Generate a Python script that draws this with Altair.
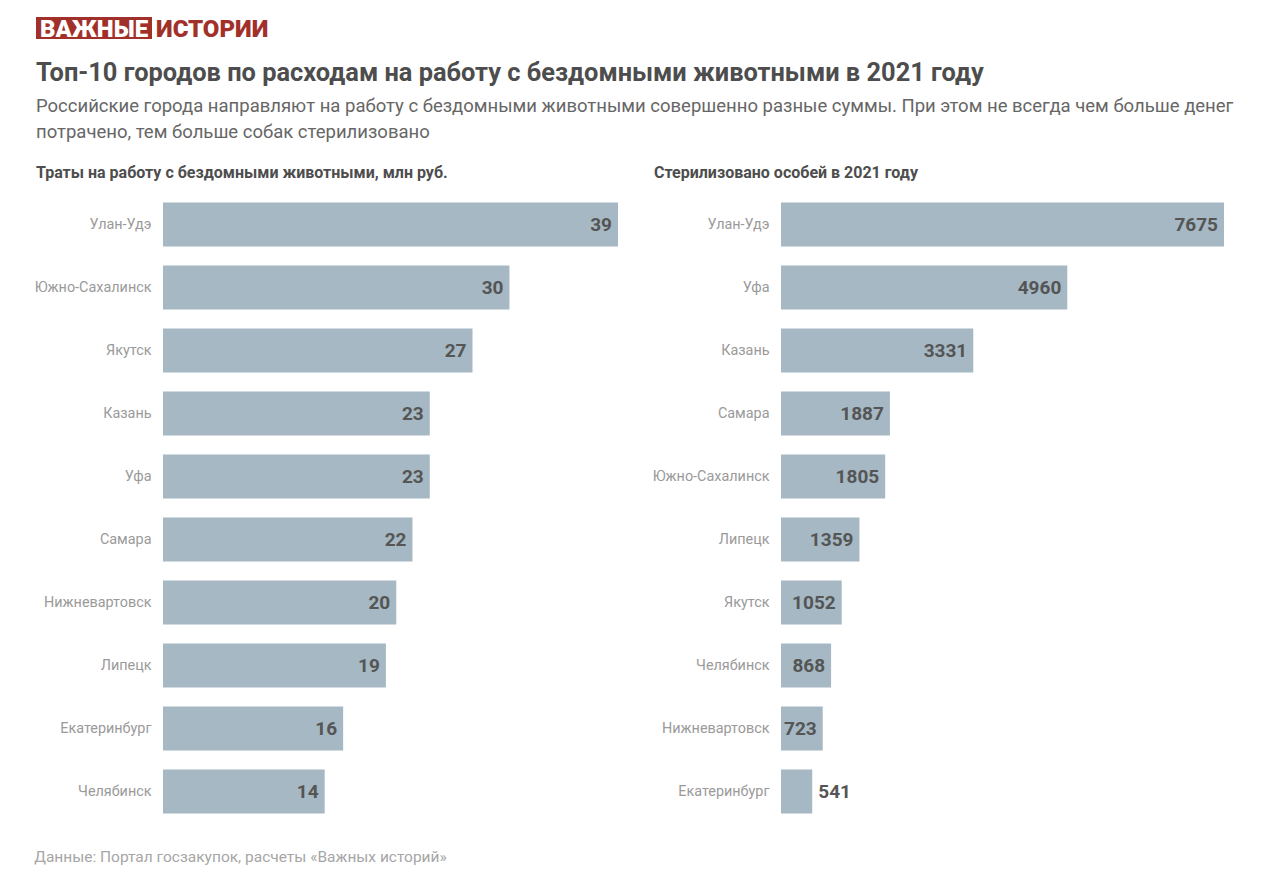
import altair as alt
import pandas as pd

# ---------------- data ----------------
spend_cities = ["Улан-Удэ", "Южно-Сахалинск", "Якутск", "Казань", "Уфа",
                "Самара", "Нижневартовск", "Липецк", "Екатеринбург", "Челябинск"]
spend_values = [39.4, 30.0, 26.8, 23.1, 23.1, 21.6, 20.2, 19.3, 15.6, 14.0]

ster_cities = ["Улан-Удэ", "Уфа", "Казань", "Самара", "Южно-Сахалинск",
               "Липецк", "Якутск", "Челябинск", "Нижневартовск", "Екатеринбург"]
ster_values = [7675, 4960, 3331, 1887, 1805, 1359, 1052, 868, 723, 541]

LOGO_A = "ВАЖНЫЕ"
LOGO_B = "ИСТОРИИ"
TITLE = "Топ-10 городов по расходам на работу с бездомными животными в 2021 году"
SUBTITLE = [
    "Российские города направляют на работу с бездомными животными совершенно разные суммы. При этом не всегда чем больше денег",
    "потрачено, тем больше собак стерилизовано",
]
LEFT_TITLE = "Траты на работу с бездомными животными, млн руб."
RIGHT_TITLE = "Стерилизовано особей в 2021 году"
SOURCE = "Данные: Портал госзакупок, расчеты «Важных историй»"

# ---------------- styles ----------------
FONT = "Roboto"
RED = "#a2302a"
BAR = "#a5b8c3"
DARK = "#4d4d4d"
VAL = "#555555"
GREY = "#9a9a9a"
AX = 127  # width reserved for the city labels

spend_df = pd.DataFrame({"city": spend_cities, "value": spend_values})
ster_df = pd.DataFrame({"city": ster_cities, "value": ster_values})
one = pd.DataFrame({"k": [0]})


def htext(txt, x, y, size, weight="normal", color=DARK):
    return alt.Chart(one).mark_text(
        align="left", baseline="alphabetic", font=FONT, fontSize=size,
        fontWeight=weight, color=color).encode(
        x=alt.value(x), y=alt.value(y), text=alt.value(txt))


# ---------------- header (origin = left plot area) ----------------
logo_box = alt.Chart(one).mark_rect(color=RED).encode(
    x=alt.value(-AX), x2=alt.value(-AX + 116), y=alt.value(1), y2=alt.value(23))
header = alt.layer(
    logo_box,
    htext(LOGO_A, -AX + 4, 21, 24, 900, "white"),
    htext(LOGO_B, -AX + 120, 21, 24, 900, RED),
    htext(TITLE, -AX, 65, 25.4, "bold", DARK),
    htext(SUBTITLE[0], -AX, 96, 18.5, "normal", "#666666"),
    htext(SUBTITLE[1], -AX, 122, 18.5, "normal", "#666666"),
).properties(width=1061, height=148)


# ---------------- panels ----------------
def panel(df, order, max_v, width, title, threshold):
    y_enc = alt.Y("city:N", sort=order, title=None,
                  scale=alt.Scale(paddingInner=0.3, paddingOuter=0.15),
                  axis=alt.Axis(domain=False, ticks=False, labelPadding=12,
                                labelColor=GREY, labelFontSize=14.4, labelFont=FONT,
                                minExtent=AX, labelLimit=125))
    x_enc = alt.X("value:Q", title=None, axis=None,
                  scale=alt.Scale(domain=[0, max_v], nice=False, zero=True))
    base = alt.Chart(df).encode(y=y_enc, x=x_enc)
    bars = base.mark_bar(color=BAR)
    inside = base.transform_filter(f"datum.value >= {threshold}").mark_text(
        align="right", baseline="middle", dx=-6, font=FONT, fontSize=19,
        fontWeight="bold", color=VAL).encode(text=alt.Text("value:Q", format=".0f"))
    outside = base.transform_filter(f"datum.value < {threshold}").mark_text(
        align="left", baseline="middle", dx=6, font=FONT, fontSize=19,
        fontWeight="bold", color=VAL).encode(text=alt.Text("value:Q", format=".0f"))
    return alt.layer(bars, inside, outside).properties(
        width=width, height=630,
        title=alt.TitleParams(title, anchor="start", frame="group", dx=-AX, dy=0.5,
                              baseline="alphabetic", offset=0, font=FONT,
                              fontSize=16, fontWeight="bold", color=DARK))


left = panel(spend_df, spend_cities, 39.4, 455, LEFT_TITLE, 0)
right = panel(ster_df, ster_cities, 7675, 443, RIGHT_TITLE, 600)

panels = alt.hconcat(left, right, spacing=34)

chart = alt.vconcat(header, panels, spacing=0).properties(
    title=alt.TitleParams(SOURCE, orient="bottom", anchor="start", baseline="top",
                          offset=27, font=FONT, fontSize=15.5, fontWeight="normal",
                          color="#a6a6a6"),
    padding={"left": 26, "top": 8, "right": 10, "bottom": 10},
    background="white",
).configure_view(stroke=None)

chart.save("out.html", embed_options={"renderer": "svg", "actions": False})
